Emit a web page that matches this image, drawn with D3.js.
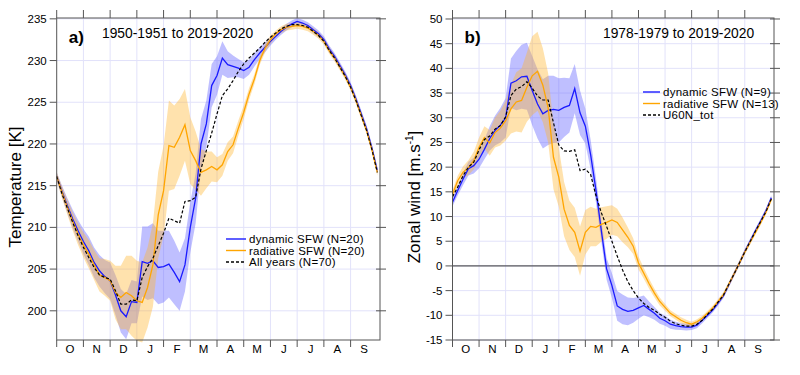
<!DOCTYPE html>
<html>
<head>
<meta charset="utf-8">
<script src="https://cdn.jsdelivr.net/npm/d3@7"></script>
<style>
  body { margin: 0; background: #fff; }
  svg text { font-family: "Liberation Sans", Arial, Helvetica, sans-serif; fill: #000; }
</style>
</head>
<body>
<svg id="chart" width="800" height="375"></svg>
<script>
// x grid: months since 1 October, step 0.2 month
const months = ['O', 'N', 'D', 'J', 'F', 'M', 'A', 'M', 'J', 'J', 'A', 'S'];
const xGrid = d3.range(61).map(i => i * 0.2);

// ---- panel a: temperature [K] ----
const tempTicks = [200, 205, 210, 215, 220, 225, 230, 235];
const tempDynamic = [
  216.1, 214.3, 212.6, 211.0, 209.6, 208.3, 207.2, 205.8, 204.8, 204.1,
  203.6, 201.9, 200.0, 199.3, 201.1, 201.0, 205.9, 205.7, 206.0, 205.2,
  205.3, 205.6, 204.6, 203.5, 205.5, 210.0, 213.5, 220.0, 222.4, 227.0,
  228.2, 230.3, 229.5, 229.3, 229.1, 228.8, 229.2, 230.1, 230.9, 231.6,
  232.3, 232.9, 233.5, 234.0, 234.4, 234.7, 234.5, 234.2, 233.7, 233.2,
  232.5, 231.4, 230.5, 229.4, 228.3, 227.0, 225.4, 223.6, 221.8, 219.5,
  216.8
];
const tempRadiative = [
  216.1, 214.2, 212.4, 210.7, 209.2, 207.9, 206.8, 205.5, 204.3, 204.0,
  203.6, 202.2, 201.6, 202.2, 201.8, 201.2, 201.0, 202.8, 205.5, 211.5,
  214.4, 219.8, 219.6, 220.8, 222.3, 219.2, 218.0, 216.6, 216.9, 217.3,
  216.9, 217.5, 219.1, 219.9, 221.9, 223.8, 226.0, 227.8, 230.0, 231.5,
  232.5, 233.2, 233.7, 234.0, 234.1, 234.2, 234.1, 233.9, 233.5, 233.0,
  232.3, 231.2, 230.3, 229.2, 228.1, 226.8, 225.2, 223.4, 221.6, 219.3,
  216.6
];
const tempAll = [
  216.1, 214.0, 212.3, 210.6, 209.0, 207.6, 206.4, 205.2, 204.3, 204.0,
  203.8, 202.4, 200.8, 200.8, 201.3, 201.2, 204.0, 205.3, 206.3, 207.8,
  209.3, 211.1, 210.8, 210.5, 213.1, 213.2, 213.6, 217.0, 219.2, 221.3,
  223.6, 225.8, 226.6, 227.6, 228.7, 229.6, 230.3, 230.9, 231.5, 232.2,
  232.8, 233.3, 233.8, 234.1, 234.3, 234.3, 234.2, 234.0, 233.5, 233.0,
  232.3, 231.2, 230.3, 229.2, 228.1, 226.8, 225.2, 223.4, 221.6, 219.3,
  216.6
];
// half width of the shaded spread
const tempDynamicSpread = [
  0.5, 0.7, 0.9, 1.1, 1.3, 1.5, 1.7, 1.8, 1.9, 2.0,
  2.2, 2.4, 2.6, 2.7, 2.6, 2.5, 4.2, 4.4, 4.5, 4.4,
  4.3, 4.0, 3.8, 3.5, 3.2, 3.0, 3.0, 3.0, 2.8, 2.6,
  2.3, 2.0, 1.6, 1.3, 1.1, 1.0, 0.9, 0.8, 0.7, 0.6,
  0.5, 0.4, 0.4, 0.4, 0.4, 0.4, 0.4, 0.4, 0.4, 0.4,
  0.4, 0.4, 0.4, 0.4, 0.4, 0.4, 0.4, 0.4, 0.4, 0.4,
  0.4
];
const tempRadiativeSpread = [
  0.5, 0.7, 0.9, 1.1, 1.3, 1.5, 1.7, 1.8, 2.0, 2.2,
  2.4, 3.2, 3.8, 4.4, 4.8, 4.8, 4.8, 4.8, 5.0, 5.2,
  5.4, 5.4, 5.0, 4.6, 4.3, 4.0, 3.5, 2.8, 2.2, 1.8,
  1.5, 1.3, 1.1, 1.0, 0.9, 0.8, 0.7, 0.6, 0.5, 0.5,
  0.5, 0.4, 0.4, 0.4, 0.4, 0.4, 0.4, 0.4, 0.4, 0.4,
  0.4, 0.4, 0.4, 0.4, 0.4, 0.4, 0.4, 0.4, 0.4, 0.4,
  0.4
];

// ---- panel b: zonal wind [m/s] ----
const windTicks = [-15, -10, -5, 0, 5, 10, 15, 20, 25, 30, 35, 40, 45, 50];
const windDynamic = [
  12.9, 15.3, 17.6, 19.7, 20.3, 21.6, 23.6, 25.8, 27.4, 28.5,
  30.0, 37.0, 37.5, 38.3, 38.4, 35.5, 32.8, 30.8, 31.5, 31.7,
  31.5, 32.1, 32.5, 35.9, 31.0, 28.3, 22.5, 15.3, 7.2, -0.6,
  -4.0, -8.1, -8.8, -9.2, -9.0, -8.5, -8.0, -8.8, -9.6, -10.6,
  -11.1, -11.8, -12.1, -12.3, -12.4, -12.4, -12.0, -11.0, -10.0, -8.9,
  -7.5, -6.0, -3.8, -1.6, 0.6, 2.9, 5.0, 7.1, 9.1, 11.2,
  13.8
];
const windRadiative = [
  14.5, 17.3, 19.0, 19.9, 21.3, 24.0, 26.0, 24.9, 27.0, 27.9,
  29.4, 31.8, 33.2, 33.5, 36.2, 38.5, 39.4, 36.6, 32.0, 22.0,
  18.0, 11.5, 8.2, 6.8, 3.0, 6.8, 8.0, 7.8, 8.4, 8.8,
  9.3, 8.8, 7.3, 5.8, 4.0, 0.6, -1.5, -3.6, -5.5, -7.2,
  -8.4, -9.6, -10.3, -11.0, -11.5, -11.8, -11.3, -10.6, -9.6, -8.5,
  -7.2, -5.8, -3.7, -1.6, 0.6, 2.8, 4.8, 6.8, 8.8, 10.9,
  13.5
];
const windAll = [
  14.0, 16.0, 18.3, 20.0, 21.0, 23.5, 25.6, 26.3, 27.7, 28.4,
  30.2, 34.5, 35.8, 36.3, 37.3, 36.0, 34.4, 33.6, 33.6, 29.0,
  24.5, 23.3, 23.2, 23.5, 19.3, 19.6, 18.5, 14.2, 10.8, 8.0,
  5.0, 2.0, -0.8, -3.2, -5.0, -6.5, -7.6, -8.4, -9.0, -9.8,
  -10.4, -11.2, -11.7, -12.0, -12.2, -12.2, -11.8, -11.0, -9.8, -8.7,
  -7.3, -5.9, -3.7, -1.6, 0.6, 2.8, 4.9, 7.0, 9.0, 11.0,
  13.6
];
const windDynamicSpread = [
  0.8, 1.0, 1.2, 1.4, 1.6, 1.8, 2.0, 2.5, 3.0, 3.5,
  4.0, 5.0, 6.0, 6.5, 6.8, 7.0, 7.0, 7.0, 7.0, 6.8,
  6.5, 6.0, 5.5, 5.0, 4.5, 3.5, 3.0, 2.5, 2.2, 2.2,
  2.5, 3.0, 3.0, 2.8, 2.5, 2.2, 2.0, 1.6, 1.3, 1.1,
  1.0, 0.9, 0.8, 0.7, 0.7, 0.6, 0.6, 0.6, 0.5, 0.5,
  0.5, 0.5, 0.5, 0.5, 0.5, 0.5, 0.5, 0.5, 0.5, 0.5,
  0.5
];
const windRadiativeSpread = [
  0.8, 1.0, 1.2, 1.5, 1.8, 2.0, 2.3, 2.6, 3.0, 3.5,
  4.0, 5.0, 6.0, 6.5, 7.0, 8.0, 8.0, 7.5, 7.0, 6.5,
  6.0, 5.5, 5.0, 5.0, 5.0, 4.5, 4.0, 3.8, 3.5, 3.3,
  3.0, 2.8, 2.5, 2.0, 1.6, 1.3, 1.1, 1.0, 0.9, 0.8,
  0.7, 0.6, 0.6, 0.6, 0.6, 0.5, 0.5, 0.5, 0.5, 0.5,
  0.5, 0.5, 0.5, 0.5, 0.5, 0.5, 0.5, 0.5, 0.5, 0.5,
  0.5
];

const BLUE = '#1a1aff';
const ORANGE = '#ffa500';
const AXIS = '#555';

const svg = d3.select('#chart');

/**
 * Draw one panel: bands, lines, frame, ticks, labels
 */
function drawPanel(opts) {
  const { left, right, top, bottom, yDomain, yTicks } = opts;

  const x = d3.scaleLinear().domain([0, 12.1]).range([left, right]);
  const y = d3.scaleLinear().domain(yDomain).range([bottom, top]);

  const g = svg.append('g');

  // grid
  g.append('g').selectAll('line')
    .data(d3.range(1, 12))
    .join('line')
    .attr('x1', d => x(d)).attr('x2', d => x(d))
    .attr('y1', top).attr('y2', bottom)
    .attr('stroke', '#e2e2fa').attr('stroke-width', 1);

  g.append('g').selectAll('line')
    .data(yTicks)
    .join('line')
    .attr('x1', left).attr('x2', right)
    .attr('y1', d => y(d)).attr('y2', d => y(d))
    .attr('stroke', '#e2e2fa').attr('stroke-width', 1);

  // zero line (wind only)
  if (opts.zeroLine) {
    g.append('line')
      .attr('x1', left).attr('x2', right)
      .attr('y1', y(0)).attr('y2', y(0))
      .attr('stroke', '#333').attr('stroke-width', 1);
  }

  // shaded spreads
  const band = (vals, spread) => d3.area()
    .x((d, i) => x(xGrid[i]))
    .y0((d, i) => y(vals[i] - spread[i]))
    .y1((d, i) => y(vals[i] + spread[i]))(vals);

  g.append('path')
    .attr('d', band(opts.dyn, opts.dynSpread))
    .attr('fill', '#6666ff').attr('fill-opacity', 0.42);

  g.append('path')
    .attr('d', band(opts.rad, opts.radSpread))
    .attr('fill', '#ffb732').attr('fill-opacity', 0.4);

  // lines
  const line = vals => d3.line()
    .x((d, i) => x(xGrid[i]))
    .y(d => y(d))(vals);

  g.append('path').attr('d', line(opts.dyn))
    .attr('fill', 'none').attr('stroke', BLUE).attr('stroke-width', 1.3);
  g.append('path').attr('d', line(opts.rad))
    .attr('fill', 'none').attr('stroke', ORANGE).attr('stroke-width', 1.3);
  g.append('path').attr('d', line(opts.all))
    .attr('fill', 'none').attr('stroke', '#000').attr('stroke-width', 1.2)
    .attr('stroke-dasharray', '3,2');

  // frame
  g.append('rect')
    .attr('x', left).attr('y', top)
    .attr('width', right - left).attr('height', bottom - top)
    .attr('fill', 'none').attr('stroke', AXIS).attr('stroke-width', 1);

  // y ticks: left outward, right crossing
  const yt = g.append('g');
  yTicks.forEach(v => {
    yt.append('line')
      .attr('x1', left - 7).attr('x2', left)
      .attr('y1', y(v)).attr('y2', y(v))
      .attr('stroke', AXIS);
    yt.append('line')
      .attr('x1', right - 4).attr('x2', right + 6)
      .attr('y1', y(v)).attr('y2', y(v))
      .attr('stroke', AXIS);
    yt.append('text')
      .attr('x', left - 10).attr('y', y(v))
      .attr('text-anchor', 'end').attr('dominant-baseline', 'central')
      .attr('font-size', 11.5)
      .text(v);
  });

  // month ticks, top and bottom outward
  const xt = g.append('g');
  d3.range(0, 12).forEach(m => {
    xt.append('line')
      .attr('x1', x(m)).attr('x2', x(m))
      .attr('y1', top - 8).attr('y2', top)
      .attr('stroke', AXIS);
    xt.append('line')
      .attr('x1', x(m)).attr('x2', x(m))
      .attr('y1', bottom).attr('y2', bottom + 7)
      .attr('stroke', AXIS);
    xt.append('text')
      .attr('x', x(m + 0.5)).attr('y', bottom + 9)
      .attr('text-anchor', 'middle').attr('dominant-baseline', 'central')
      .attr('font-size', 11.5)
      .text(months[m]);
  });

  // axis title
  const yl = g.append('text')
    .attr('transform', `translate(${opts.yLabelX},${opts.yLabelY}) rotate(-90)`)
    .attr('text-anchor', 'middle')
    .attr('font-size', 17);
  opts.yLabel(yl);

  // panel letter and period
  g.append('text')
    .attr('x', left + 12).attr('y', 43)
    .attr('font-size', 17).attr('font-weight', 'bold')
    .text(opts.letter);
  g.append('text')
    .attr('x', opts.periodX).attr('y', 38)
    .attr('font-size', 13.8)
    .text(opts.period);

  // legend
  const rowH = 11.5;
  const lg = g.append('g')
    .attr('transform', `translate(${opts.legendX},${opts.legendY})`);
  opts.legend.forEach((d, i) => {
    lg.append('line')
      .attr('x1', 0).attr('x2', opts.legendLen)
      .attr('y1', i * rowH).attr('y2', i * rowH)
      .attr('stroke', d.color).attr('stroke-width', 1.4)
      .attr('stroke-dasharray', d.dash || null);
    lg.append('text')
      .attr('x', opts.legendLen + 3).attr('y', i * rowH)
      .attr('dominant-baseline', 'central')
      .attr('font-size', 11.5)
      .attr('letter-spacing', 0.25)
      .text(d.label);
  });
}

drawPanel({
  left: 56.7, right: 380, top: 18, bottom: 340,
  yDomain: [196.5, 235.1], yTicks: tempTicks,
  dyn: tempDynamic, rad: tempRadiative, all: tempAll,
  dynSpread: tempDynamicSpread, radSpread: tempRadiativeSpread,
  yLabelX: 21, yLabelY: 187,
  yLabel: t => t.text('Temperature [K]'),
  letter: 'a)', period: '1950-1951 to 2019-2020', periodX: 102,
  legendX: 226, legendY: 239, legendLen: 20,
  legend: [
    { label: 'dynamic SFW (N=20)', color: BLUE },
    { label: 'radiative SFW (N=20)', color: ORANGE },
    { label: 'All years (N=70)', color: '#000', dash: '3,2' }
  ]
});

drawPanel({
  left: 452.5, right: 774, top: 18, bottom: 340,
  yDomain: [-15, 50.2], yTicks: windTicks,
  dyn: windDynamic, rad: windRadiative, all: windAll,
  dynSpread: windDynamicSpread, radSpread: windRadiativeSpread,
  zeroLine: true,
  yLabelX: 420, yLabelY: 197,
  yLabel: t => {
    t.append('tspan').text('Zonal wind [m.s');
    t.append('tspan').attr('font-size', 10).attr('dy', -7).text('-1');
    t.append('tspan').attr('dy', 7).text(']');
  },
  letter: 'b)', period: '1978-1979 to 2019-2020', periodX: 603,
  legendX: 643, legendY: 92, legendLen: 17,
  legend: [
    { label: 'dynamic SFW (N=9)', color: BLUE },
    { label: 'radiative SFW (N=13)', color: ORANGE },
    { label: 'U60N_tot', color: '#000', dash: '3,2' }
  ]
});
</script>
</body>
</html>
